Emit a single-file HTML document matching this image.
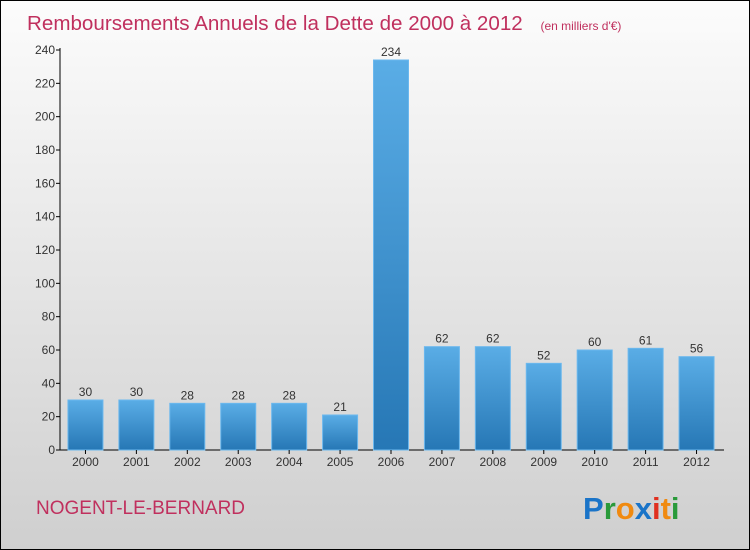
<!DOCTYPE html>
<html><head><meta charset="utf-8"><style>
body{margin:0}
#c{width:748px;height:548px;border:1px solid #000;background:linear-gradient(#fcfcfc,#cfcfcf);position:relative;overflow:hidden;font-family:"Liberation Sans",sans-serif}
</style></head><body>
<div id="c">
<svg id="s" width="748" height="548" style="position:absolute;left:0;top:0">
<defs><linearGradient id="g" x1="0" y1="0" x2="0" y2="1"><stop offset="0" stop-color="#5aade6"/><stop offset="1" stop-color="#2677b5"/></linearGradient></defs>
<text x="26" y="29" font-size="20.6" fill="#c0305e">Remboursements Annuels de la Dette de 2000 à 2012 <tspan font-size="12" dx="12">(en milliers d'€)</tspan></text>
<text x="35" y="513" font-size="19" fill="#c0305e">NOGENT-LE-BERNARD</text>
<text x="582" y="518" font-size="31" font-weight="bold"><tspan fill="#1a74c8">P</tspan><tspan fill="#2a9a3a">r</tspan><tspan fill="#f08a10">o</tspan><tspan fill="#1a74c8">x</tspan><tspan fill="#e03020">i</tspan><tspan fill="#f08a10">t</tspan><tspan fill="#2a9a3a">i</tspan></text>
</svg>
</div>
<script>
const categories=["2000","2001","2002","2003","2004","2005","2006","2007","2008","2009","2010","2011","2012"];
const values=[30,30,28,28,28,21,234,62,62,52,60,61,56];
const yTicks=[0,20,40,60,80,100,120,140,160,180,200,220,240];
const s=document.getElementById('s');const NS="http://www.w3.org/2000/svg";
const L=59,R=721,T=49,B=449,ymax=240;
const y=v=>B-(v/ymax)*(B-T);
const band=(R-L)/categories.length;
const x=i=>L+band*(i+0.5);
function mk(t,a){const e=document.createElementNS(NS,t);for(const k in a)e.setAttribute(k,a[k]);s.appendChild(e);return e;}
let e=mk('line',{x1:L,y1:T-2,x2:L,y2:B,stroke:'#000'});


e=mk('line',{x1:L,y1:B,x2:R+2,y2:B,stroke:'#000'});


yTicks.forEach(v=>{
 let t=mk('line',{x1:L-4,y1:y(v),x2:L,y2:y(v),stroke:'#000'});
 
 
 let l=mk('text',{x:L-5,y:y(v)+4,'font-size':12,fill:'#333','text-anchor':'end'});l.textContent=v;
 
 
});
categories.forEach((c,i)=>{
 const w=35,v=values[i];
 let r=mk('rect',{x:x(i)-w/2,y:y(v),width:w,height:B-y(v),fill:'url(#g)',stroke:'#6bb8ee','stroke-width':1});
 
 
 let t=mk('text',{x:x(i),y:y(v)-4,'font-size':12,fill:'#333','text-anchor':'middle'});t.textContent=v;
 
 
 let k=mk('line',{x1:x(i),y1:B,x2:x(i),y2:B+4,stroke:'#000'});
 
 
 let l=mk('text',{x:x(i),y:B+16,'font-size':12,fill:'#333','text-anchor':'middle'});l.textContent=c;
 
 
});
</script>
</body></html>
